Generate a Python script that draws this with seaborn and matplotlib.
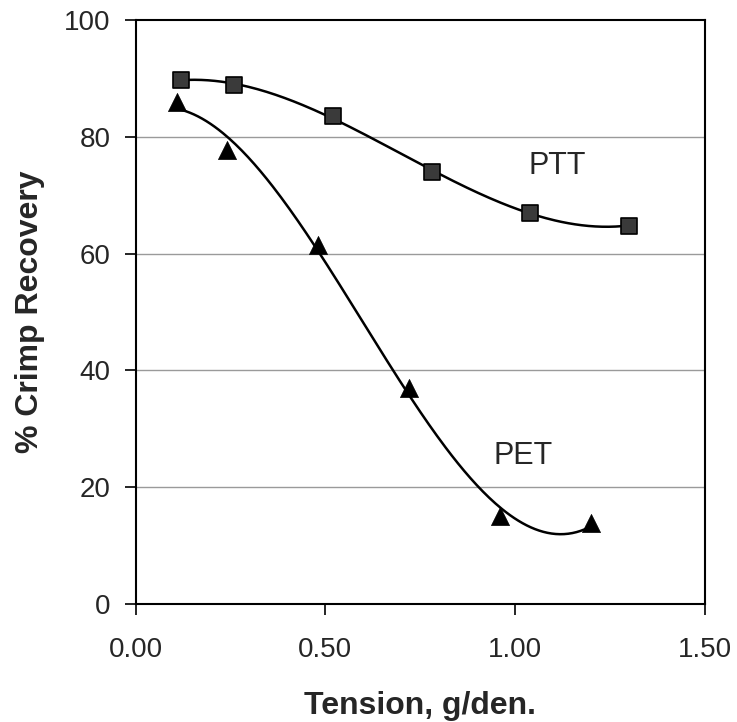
import numpy as np
import pandas as pd
import seaborn as sns
import matplotlib.pyplot as plt

# values
ptt_x = [0.12, 0.26, 0.52, 0.78, 1.04, 1.30]
ptt_y = [89.8, 88.8, 83.5, 74.0, 67.0, 64.8]
pet_x = [0.11, 0.24, 0.48, 0.72, 0.96, 1.20]
pet_y = [86.0, 77.8, 61.5, 37.0, 15.0, 13.8]
x_ticks = [0.0, 0.5, 1.0, 1.5]
y_ticks = [0, 20, 40, 60, 80, 100]


def trend(xs, ys, deg=3, n=200):
    # polynomial trendline like the spreadsheet one
    c = np.polyfit(xs, ys, deg)
    xx = np.linspace(min(xs), max(xs), n)
    return pd.DataFrame({'x': xx, 'y': np.polyval(c, xx)})


sns.set_theme(style='white')
plt.rcParams['font.family'] = ['Liberation Sans', 'DejaVu Sans']

fig = plt.figure(figsize=(7.37, 7.22), dpi=100)
ax = fig.add_axes([135.5 / 737, 1 - 604 / 722, (705 - 135.5) / 737, (604 - 20) / 722])

for y in y_ticks[1:-1]:
    ax.axhline(y, color='#9a9a9a', lw=1.0, zorder=0)

sns.lineplot(data=trend(ptt_x, ptt_y), x='x', y='y', color='black', lw=1.8, ax=ax)
sns.lineplot(data=trend(pet_x, pet_y), x='x', y='y', color='black', lw=1.8, ax=ax)

pts_ptt = pd.DataFrame({'x': ptt_x, 'y': ptt_y})
pts_pet = pd.DataFrame({'x': pet_x, 'y': pet_y})
sns.scatterplot(data=pts_ptt, x='x', y='y', marker='s', s=120, color='#3a3a3a',
                edgecolor='black', linewidth=1.2, ax=ax, zorder=3)
sns.scatterplot(data=pts_pet, x='x', y='y', marker='^', s=170, color='black',
                edgecolor='black', linewidth=0.5, ax=ax, zorder=3)

ax.text(1.11, 75, 'PTT', fontsize=22, ha='center', va='center')
ax.text(1.02, 25.3, 'PET', fontsize=22, ha='center', va='center')

ax.set_xlim(0, 1.5)
ax.set_ylim(0, 100)
ax.set_xticks(x_ticks)
ax.set_xticklabels([f'{v:.2f}' for v in x_ticks])
ax.set_yticks(y_ticks)
ax.tick_params(axis='both', direction='out', length=8, width=1.2, color='black',
               labelsize=20, bottom=True, left=True)
ax.tick_params(axis='x', pad=16)
ax.tick_params(axis='y', pad=10)

for s in ax.spines.values():
    s.set_color('black')
    s.set_linewidth(1.5)

ax.set_xlabel('Tension, g/den.', fontsize=23, fontweight='bold', labelpad=20)
ax.set_ylabel('% Crimp Recovery', fontsize=23, fontweight='bold', labelpad=14)

fig.savefig('out.png', dpi=100)
